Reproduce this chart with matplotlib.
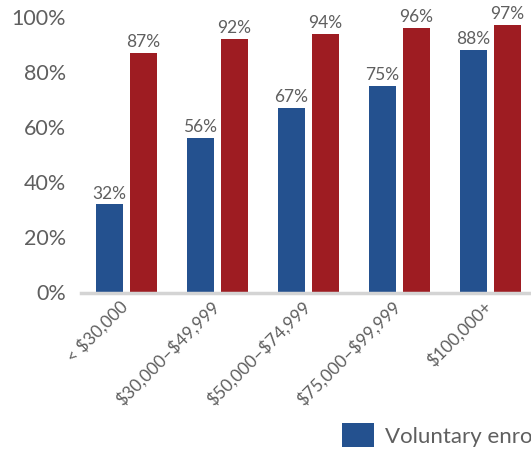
import numpy as np
import matplotlib
matplotlib.use('agg')
import matplotlib.pyplot as plt
import matplotlib.transforms as mtransforms

categories = ['< $30,000', '$30,000–$49,999', '$50,000–$74,999',
              '$75,000–$99,999', '$100,000+']
voluntary = [32, 56, 67, 75, 88]
automatic = [87, 92, 94, 96, 97]
series_names = ['Voluntary enrollment', 'Automatic enrollment']

blue = '#24518f'
red = '#9e1c22'
grey_text = '#5f5f5f'

plt.rcParams['font.family'] = ['Lato', 'DejaVu Sans']
plt.rcParams['text.parse_math'] = False

fig = plt.figure(figsize=(5.31, 4.53), dpi=100)
W, H = 531, 453
# axes runs off the right edge, like the cropped original
ax = fig.add_axes([81 / W, (H - 292.5) / H, (536 - 81) / W, (292.5 - 17) / H])

x = np.arange(len(categories))
bw = 0.297
off = 0.187
b1 = ax.bar(x - off, voluntary, bw, color=blue, label=series_names[0], zorder=2)
b2 = ax.bar(x + off, automatic, bw, color=red, label=series_names[1], zorder=2)

for bars, vals in ((b1, voluntary), (b2, automatic)):
    for rect, v in zip(bars, vals):
        ax.annotate(f'{v}%', (rect.get_x() + rect.get_width() / 2, v),
                    xytext=(0, 2), textcoords='offset points',
                    ha='center', va='bottom', fontsize=12.5, color=grey_text)

ax.set_xlim(-0.5, 4.5)
ax.set_ylim(0, 100)
ax.set_yticks([0, 20, 40, 60, 80, 100])
ax.set_yticklabels([f'{t}%' for t in [0, 20, 40, 60, 80, 100]])
ax.tick_params(axis='y', length=0, pad=11, labelsize=15.5, labelcolor=grey_text)
ax.tick_params(axis='x', length=0, pad=4, labelsize=12.5, labelcolor=grey_text)
ax.set_xticks(x)
ax.set_xticklabels(categories, rotation=45, ha='right', va='top',
                   rotation_mode='anchor')
# nudge the slanted labels a little left
shift = mtransforms.ScaledTranslation(-0.07, 0, fig.dpi_scale_trans)
for lbl in ax.get_xticklabels():
    lbl.set_transform(lbl.get_transform() + shift)

for s in ('top', 'right', 'left'):
    ax.spines[s].set_visible(False)
ax.spines['bottom'].set_color('#d4d4d4')
ax.spines['bottom'].set_linewidth(2.5)
ax.spines['bottom'].set_zorder(3)

fig.legend(handles=[b1, b2], loc='upper left', ncol=2, frameon=False,
           bbox_to_anchor=(342 / W, 1 - 423 / H), borderpad=0,
           borderaxespad=0, handlelength=1.45, handleheight=1.3,
           handletextpad=0.5, columnspacing=1.5,
           prop={'size': 16}, labelcolor=grey_text)

fig.savefig('out.png', dpi=100)
